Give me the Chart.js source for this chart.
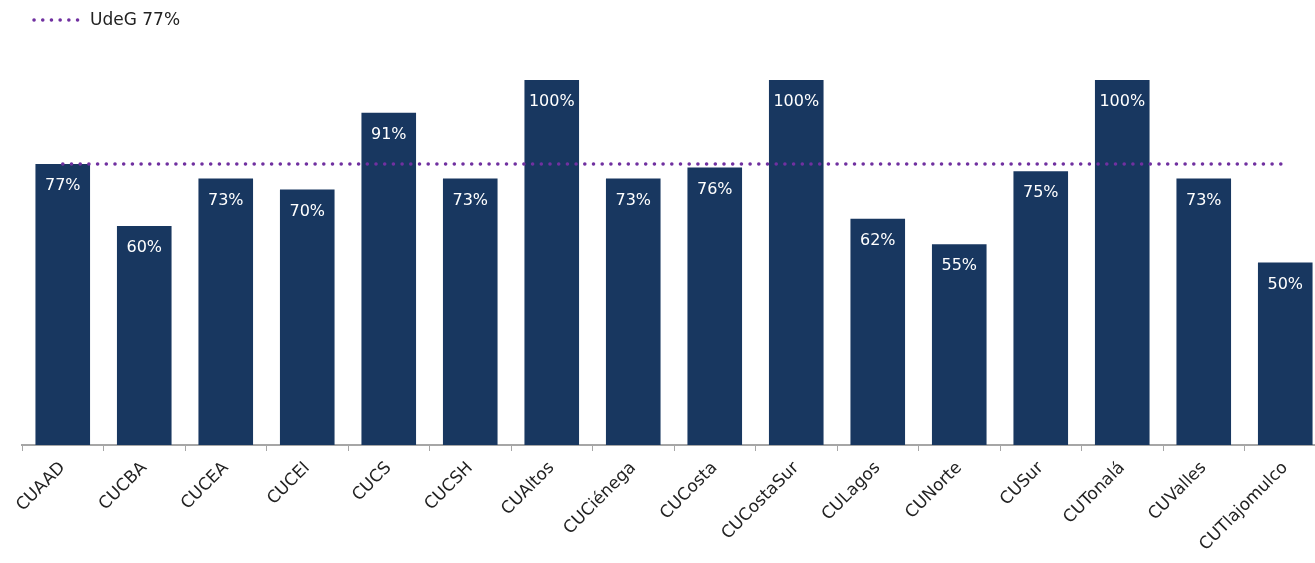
<!DOCTYPE html>
<html>
<head>
<meta charset="utf-8">
<script src="https://cdn.jsdelivr.net/npm/chart.js@4.4.1/dist/chart.umd.min.js"></script>
<style>
  html, body { margin: 0; padding: 0; background: #fff; overflow: hidden; }
  #wrap { position: relative; width: 1326px; height: 563px; }
</style>
</head>
<body>
<div id="wrap"><canvas id="chart"></canvas></div>
<script>
// centros universitarios
const centros = ["CUAAD", "CUCBA", "CUCEA", "CUCEI", "CUCS", "CUCSH", "CUAltos", "CUCiénega",
  "CUCosta", "CUCostaSur", "CULagos", "CUNorte", "CUSur", "CUTonalá", "CUValles", "CUTlajomulco"];
const porcentajes = [77, 60, 73, 70, 91, 73, 100, 73, 76, 100, 62, 55, 75, 100, 73, 50];
const udegLabel = "UdeG 77%";
const udegValor = 77;

const FONT = "'DejaVu Sans', sans-serif";

// etiquetas dentro de las barras
const etiquetas = {
  id: "etiquetas",
  afterDatasetsDraw(chart) {
    const ctx = chart.ctx;
    const meta = chart.getDatasetMeta(1);
    ctx.save();
    ctx.fillStyle = "#ffffff";
    ctx.font = "16px " + FONT;
    ctx.textAlign = "center";
    ctx.textBaseline = "middle";
    meta.data.forEach((bar, i) => {
      ctx.fillText(porcentajes[i] + "%", bar.x, bar.y + 22);
    });
    ctx.restore();
  }
};

// leyenda con línea punteada
const leyenda = {
  id: "leyenda",
  afterDraw(chart) {
    const ctx = chart.ctx;
    ctx.save();
    ctx.strokeStyle = "#7030A0";
    ctx.lineWidth = 3.5;
    ctx.lineCap = "round";
    ctx.setLineDash([0.1, 8.6]);
    ctx.beginPath();
    ctx.moveTo(34, 20);
    ctx.lineTo(80, 20);
    ctx.stroke();
    ctx.setLineDash([]);
    ctx.fillStyle = "#222222";
    ctx.font = "17px " + FONT;
    ctx.textBaseline = "middle";
    ctx.fillText(udegLabel, 90, 21);
    ctx.restore();
  }
};

new Chart(document.getElementById("chart"), {
  data: {
    labels: centros,
    datasets: [
      {
        type: "line",
        label: udegLabel,
        data: centros.map(() => udegValor),
        borderColor: "#7030A0",
        borderWidth: 3.5,
        borderCapStyle: "round",
        borderDash: [0.1, 8.6],
        pointRadius: 0,
        fill: false,
        order: 0
      },
      {
        type: "bar",
        label: "Porcentaje",
        data: porcentajes,
        backgroundColor: "#183760",
        barPercentage: 0.67,
        categoryPercentage: 1,
        order: 1
      }
    ]
  },
  options: {
    responsive: true,
    maintainAspectRatio: false,
    animation: false,
    layout: { padding: { top: 80, left: 22, right: 0, bottom: 1 } },
    plugins: {
      legend: { display: false },
      tooltip: { enabled: false }
    },
    scales: {
      x: {
        grid: { display: true, drawOnChartArea: false, offset: true, color: "#a6a6a6", tickLength: 6, tickColor: "#a6a6a6" },
        border: { color: "#a6a6a6", width: 2 },
        ticks: {
          color: "#222222",
          font: { family: FONT, size: 17 },
          minRotation: 45,
          maxRotation: 45,
          autoSkip: false,
          padding: 7
        }
      },
      y: {
        display: false,
        min: 0,
        max: 100
      }
    }
  },
  plugins: [etiquetas, leyenda]
});
</script>
</body>
</html>
